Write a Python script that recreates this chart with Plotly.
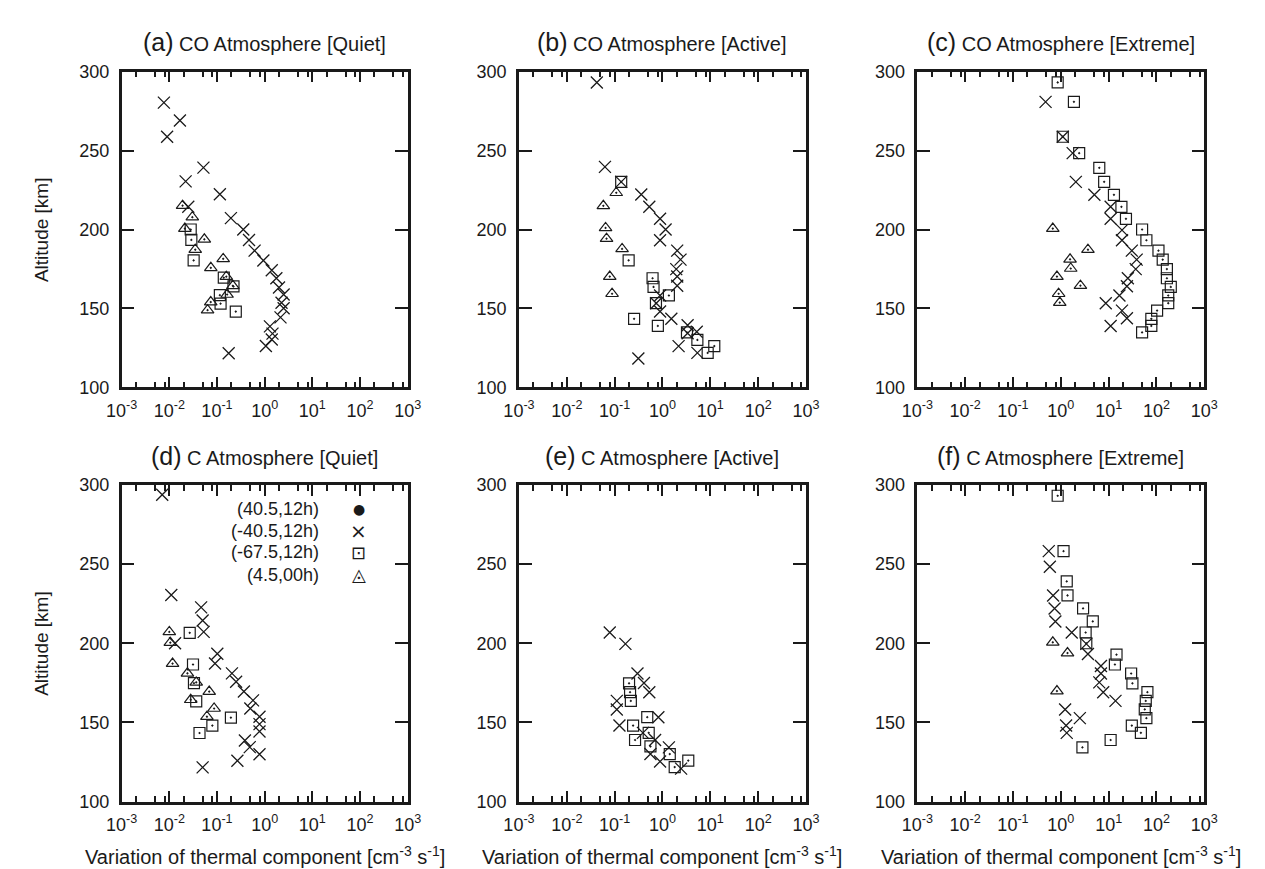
import plotly.graph_objects as go
from plotly.subplots import make_subplots

# ---------------- data ----------------
SERIES_NAMES = ["(40.5,12h)", "(-40.5,12h)", "(-67.5,12h)", "(4.5,00h)"]
SERIES_GLYPHS = ["●", "×", "⊡", "◬"]
GLYPH_SIZES = [14, 20, 18, 18]
PANEL_TITLES = [
    "(a)|CO Atmosphere [Quiet]", "(b)|CO Atmosphere [Active]", "(c)|CO Atmosphere [Extreme]",
    "(d)|C Atmosphere [Quiet]", "(e)|C Atmosphere [Active]", "(f)|C Atmosphere [Extreme]",
]
X_TICK_VALUES = [1e-3, 1e-2, 1e-1, 1e0, 1e1, 1e2, 1e3]
X_TICK_LABELS = ["10<sup>-3</sup>", "10<sup>-2</sup>", "10<sup>-1</sup>", "10<sup>0</sup>",
                 "10<sup>1</sup>", "10<sup>2</sup>", "10<sup>3</sup>"]
Y_TICK_VALUES = [100, 150, 200, 250, 300]
X_AXIS_TITLE = "Variation of thermal component [cm<sup>-3</sup> s<sup>-1</sup>]"
Y_AXIS_TITLE = "Altitude [km]"

# (40.5,12h) filled circles: no visible points in any panel
CIRCLE_X = []
CIRCLE_ALT = []

# (a) CO Quiet
A_CROSS_X = [0.0077, 0.0167, 0.0090, 0.052, 0.022, 0.115, 0.025, 0.196, 0.356, 0.47, 0.615, 0.94,
             1.41, 1.76, 2.0, 2.5, 2.26, 2.5, 2.15, 1.29, 1.46, 1.41, 1.06, 0.176]
A_CROSS_ALT = [280.4, 269.1, 258.8, 239.2, 230.5, 222.3, 214.4, 207.2, 200.0, 193.4, 186.6, 180.4,
               174.2, 169.1, 163.3, 158.8, 153.6, 150.1, 144.3, 138.6, 134.0, 130.3, 126.2, 121.6]
A_SQUARE_X = [0.0281, 0.029, 0.0324, 0.139, 0.222, 0.115, 0.119, 0.248]
A_SQUARE_ALT = [200.0, 193.4, 180.4, 169.5, 163.9, 158.4, 153.0, 148.0]
A_TRI_X = [0.019, 0.0304, 0.0212, 0.0543, 0.035, 0.135, 0.0743, 0.157, 0.215, 0.163, 0.074, 0.0635]
A_TRI_ALT = [215.1, 207.8, 200.6, 193.8, 187.2, 181.4, 175.7, 170.1, 164.3, 158.8, 154.0, 148.9]

# (b) CO Active
B_CROSS_X = [0.0424, 0.0627, 0.137, 0.36, 0.53, 0.89, 1.16, 0.89, 2.03, 2.38, 1.94, 2.03, 2.03,
             0.89, 0.74, 0.89, 1.53, 3.35, 3.35, 5.2, 2.17, 5.36, 0.313]
B_CROSS_ALT = [293.2, 239.7, 230.2, 222.2, 214.4, 206.8, 200.0, 193.2, 186.6, 180.9, 174.9, 170.2,
               164.4, 158.2, 153.3, 148.0, 143.4, 139.3, 134.2, 135.2, 126.1, 121.8, 118.3]
B_SQUARE_X = [0.137, 0.196, 0.62, 0.65, 1.36, 0.73, 0.255, 0.80, 3.25, 5.36, 8.8, 12.1]
B_SQUARE_ALT = [230.2, 180.5, 169.1, 163.6, 158.2, 153.3, 143.4, 138.9, 134.8, 130.0, 121.8, 126.1]
B_TRI_X = [0.108, 0.058, 0.0646, 0.0677, 0.143, 0.079, 0.0883]
B_TRI_ALT = [223.3, 215.0, 201.0, 194.2, 187.7, 170.2, 159.3]

# (c) CO Extreme
C_CROSS_X = [0.48, 1.1, 1.77, 2.06, 5.03, 11, 11, 19, 19, 30.5, 38.5, 36.8, 25.2, 24.1, 16.8,
             8.7, 19, 24.1, 11]
C_CROSS_ALT = [280.9, 258.8, 248.4, 230.2, 222.0, 214.4, 206.8, 199.6, 193.2, 186.6, 180.9, 174.9,
               169.1, 164.0, 158.2, 153.3, 148.6, 143.8, 138.9]
C_SQUARE_X = [0.86, 1.88, 1.1, 2.42, 6.37, 8.05, 12.9, 18.5, 23, 50, 61.5, 110, 135, 165, 165,
              199, 176, 176, 103, 78, 78, 50]
C_SQUARE_ALT = [293.2, 280.9, 258.8, 248.4, 239.1, 230.2, 222.0, 214.4, 206.8, 200.0, 193.2, 186.6,
                180.9, 174.9, 169.1, 163.6, 158.2, 153.3, 148.6, 143.4, 138.9, 134.8]
C_TRI_X = [0.68, 3.69, 1.56, 1.61, 0.83, 2.57, 0.9, 0.95]
C_TRI_ALT = [200.6, 187.2, 181.1, 175.3, 170.2, 164.4, 159.3, 153.7]

# (d) C Quiet
D_CROSS_X = [0.0071, 0.011, 0.0465, 0.050, 0.0526, 0.0132, 0.1016, 0.091, 0.206, 0.252, 0.367,
             0.57, 0.50, 0.78, 0.78, 0.78, 0.385, 0.487, 0.78, 0.268, 0.050]
D_CROSS_ALT = [293.8, 230.5, 222.7, 214.4, 207.2, 200.0, 193.4, 187.2, 181.0, 175.7, 169.5,
               163.9, 158.8, 153.6, 148.9, 144.3, 138.6, 134.4, 129.9, 125.8, 121.6]
D_SQUARE_X = [0.0268, 0.0314, 0.0329, 0.0367, 0.196, 0.080, 0.043]
D_SQUARE_ALT = [206.6, 186.6, 174.8, 163.3, 153.0, 148.0, 143.3]
D_TRI_X = [0.010, 0.0105, 0.0117, 0.024, 0.0367, 0.0687, 0.0281, 0.087, 0.0615]
D_TRI_ALT = [207.2, 200.4, 187.2, 181.0, 175.3, 169.5, 164.3, 158.8, 153.6]

# (e) C Active
E_CROSS_X = [0.079, 0.168, 0.30, 0.41, 0.53, 0.111, 0.111, 0.126, 0.82, 0.39, 0.70, 1.36, 0.56,
             0.89, 2.45]
E_CROSS_ALT = [206.8, 199.6, 180.9, 174.9, 169.1, 163.6, 158.2, 148.0, 153.3, 143.4, 138.9, 134.2,
               130.0, 125.3, 120.8]
E_SQUARE_X = [0.20, 0.21, 0.218, 0.48, 0.243, 0.515, 0.267, 0.56, 1.42, 3.46, 1.8]
E_SQUARE_ALT = [174.7, 169.1, 163.6, 153.3, 148.0, 143.4, 138.9, 134.8, 130.0, 125.9, 121.8]
E_TRI_X = []
E_TRI_ALT = []

# (f) C Extreme
F_CROSS_X = [0.56, 0.59, 0.69, 0.74, 0.77, 1.69, 3.41, 3.69, 6.9, 6.9, 6.37, 7.7, 13.9, 1.23, 2.5,
             1.29, 1.33]
F_CROSS_ALT = [258.2, 248.4, 230.2, 222.0, 213.8, 206.8, 199.6, 193.2, 185.6, 180.9, 175.3, 169.1,
               163.6, 158.2, 152.7, 148.0, 143.4]
F_SQUARE_X = [0.86, 1.14, 1.33, 1.38, 2.92, 4.66, 3.3, 3.41, 14.6, 13.5, 29.5, 31.4, 64.6, 59.7,
              56.9, 61.5, 30.5, 47.2, 11, 2.83]
F_SQUARE_ALT = [293.2, 258.2, 239.1, 230.2, 222.0, 213.8, 206.8, 200.0, 192.8, 186.6, 180.9, 174.7,
                169.1, 163.6, 158.2, 152.7, 148.0, 143.4, 138.9, 134.2]
F_TRI_X = [0.68, 1.38, 0.83]
F_TRI_ALT = [200.6, 193.8, 169.8]

PANELS = [
    (A_CROSS_X, A_CROSS_ALT, A_SQUARE_X, A_SQUARE_ALT, A_TRI_X, A_TRI_ALT),
    (B_CROSS_X, B_CROSS_ALT, B_SQUARE_X, B_SQUARE_ALT, B_TRI_X, B_TRI_ALT),
    (C_CROSS_X, C_CROSS_ALT, C_SQUARE_X, C_SQUARE_ALT, C_TRI_X, C_TRI_ALT),
    (D_CROSS_X, D_CROSS_ALT, D_SQUARE_X, D_SQUARE_ALT, D_TRI_X, D_TRI_ALT),
    (E_CROSS_X, E_CROSS_ALT, E_SQUARE_X, E_SQUARE_ALT, E_TRI_X, E_TRI_ALT),
    (F_CROSS_X, F_CROSS_ALT, F_SQUARE_X, F_SQUARE_ALT, F_TRI_X, F_TRI_ALT),
]

# ---------------- layout / styling ----------------
W, H = 1265, 869
FONT = "Liberation Sans, Arial, Helvetica, sans-serif"
GLYPH_FONT = "DejaVu Sans, Liberation Sans, sans-serif"
INK = "#1a1a1a"
COL_X = [(100, 393), (507, 801), (915, 1209)]
ROW_Y = [(55, 378), (478, 802)]

MINOR_VALS = []
for e in range(-3, 3):
    for m in (2, 5, 8):
        MINOR_VALS.append(m * 10 ** e)

fig = make_subplots(rows=2, cols=3)

STYLE = {
    "circle": dict(symbol="circle", size=10, color=INK, line=dict(width=0)),
    "cross": dict(symbol="x-thin-open", size=12, color=INK, line=dict(width=1.3, color=INK)),
    "square": dict(symbol="square-open-dot", size=11, color=INK, line=dict(width=1.2, color=INK)),
    "tri": dict(symbol="triangle-up-open-dot", size=11, color=INK, line=dict(width=1.2, color=INK)),
}

for i, (cx, ca, sx, sa, tx, ta) in enumerate(PANELS):
    r, c = i // 3 + 1, i % 3 + 1
    sets = [(CIRCLE_X, CIRCLE_ALT, "circle"), (cx, ca, "cross"), (sx, sa, "square"), (tx, ta, "tri")]
    for k, (xs, ys, key) in enumerate(sets):
        fig.add_trace(go.Scatter(
            x=xs if len(xs) else [None], y=ys if len(ys) else [None],
            mode="markers", marker=STYLE[key], name=SERIES_NAMES[k],
            showlegend=False,
        ), row=r, col=c)

for i in range(6):
    r, c = i // 3, i % 3
    idx = "" if i == 0 else str(i + 1)
    x0, x1 = COL_X[c]
    y0, y1 = ROW_Y[r]
    fig.layout["xaxis" + idx].update(
        domain=[x0 / W, x1 / W], type="log", range=[-3, 3],
        tickvals=X_TICK_VALUES, ticktext=X_TICK_LABELS, tickmode="array",
        ticks="inside", ticklen=11, tickwidth=1.8, tickcolor=INK,
        minor=dict(tickvals=MINOR_VALS, ticks="inside", ticklen=6, tickwidth=1.5, tickcolor=INK),
        showline=True, linewidth=2.5, linecolor=INK, mirror="allticks",
        showgrid=False, zeroline=False, tickfont=dict(size=18, color=INK, family=FONT),
        ticklabelstandoff=5,
    )
    fig.layout["yaxis" + idx].update(
        domain=[1 - y1 / H, 1 - y0 / H], range=[100, 300],
        tickvals=Y_TICK_VALUES, tickmode="array",
        ticks="inside", ticklen=13, tickwidth=1.8, tickcolor=INK,
        showline=True, linewidth=2.5, linecolor=INK, mirror="allticks",
        showgrid=False, zeroline=False, tickfont=dict(size=18, color=INK, family=FONT),
        ticklabelstandoff=6,
    )
    # panel title
    letter, rest = PANEL_TITLES[i].split("|")
    fig.add_annotation(
        x=(x0 + x1) / 2 / W, y=1 - (y0 - 30) / H, xref="paper", yref="paper",
        text=f"<span style='font-size:25px'>{letter}</span> {rest}",
        showarrow=False, xanchor="center", yanchor="middle",
        font=dict(size=20, color=INK, family=FONT),
    )

# x-axis titles below bottom row
for c in range(3):
    x0, x1 = COL_X[c]
    fig.add_annotation(
        x=(x0 + x1) / 2 / W, y=1 - 857 / H, xref="paper", yref="paper",
        text=X_AXIS_TITLE, showarrow=False, xanchor="center", yanchor="middle",
        font=dict(size=20, color=INK, family=FONT),
    )
# y-axis titles, left column
for r in range(2):
    y0, y1 = ROW_Y[r]
    fig.add_annotation(
        x=18 / W, y=1 - (y0 + y1) / 2 / H, xref="paper", yref="paper",
        text=Y_AXIS_TITLE, textangle=-90, showarrow=False,
        xanchor="center", yanchor="middle",
        font=dict(size=19, color=INK, family=FONT),
    )

# gnuplot-style key inside panel (d): right-aligned label, glyph to its right
KEY_ROWS_Y = [503, 525, 547, 570]
for k, name in enumerate(SERIES_NAMES):
    yk = 1 - KEY_ROWS_Y[k] / H
    fig.add_annotation(
        x=304 / W, y=yk, xref="paper", yref="paper", text=name,
        showarrow=False, xanchor="right", yanchor="middle",
        font=dict(size=18, color=INK, family=FONT),
    )
    fig.add_annotation(
        x=343 / W, y=yk, xref="paper", yref="paper", text=SERIES_GLYPHS[k],
        showarrow=False, xanchor="center", yanchor="middle",
        font=dict(size=GLYPH_SIZES[k], color=INK, family=GLYPH_FONT),
    )

fig.update_layout(
    width=W, height=H, margin=dict(l=0, r=0, t=0, b=0),
    paper_bgcolor="white", plot_bgcolor="white",
    font=dict(family=FONT, color=INK, size=18),
    showlegend=False,
)

fig.write_html("out.html")
